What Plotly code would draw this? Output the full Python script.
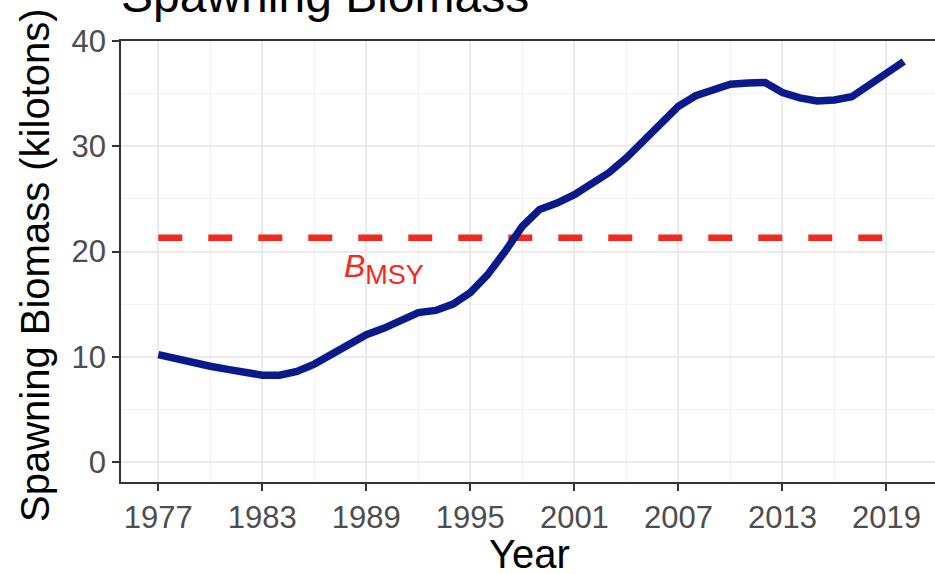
import plotly.graph_objects as go

years = list(range(1977, 2021))
biomass = [10.2, 9.8, 9.5, 9.1, 8.8, 8.5, 8.25, 8.25, 8.6, 9.3,
           10.2, 11.3, 12.1, 12.7, 13.5, 14.2, 14.4, 15.0, 16.1, 17.8,
           20.0, 22.4, 24.0, 24.6, 25.4, 26.4, 27.5, 28.9, 30.5, 32.2,
           33.8, 34.8, 35.4, 35.9, 36.0, 36.05, 35.1, 34.6, 34.3, 34.4,
           34.7, 35.8, 37.0, 38.05]
bmsy_years = [1977, 2019]
bmsy_value = 21.3
x_ticks = [1977, 1983, 1989, 1995, 2001, 2007, 2013, 2019]
y_ticks = [0, 10, 20, 30, 40]

FONT = "Liberation Sans, Arial, Helvetica, sans-serif"
BLUE = "#0B1A8A"
RED = "#F02A1E"

fig = go.Figure()
fig.add_trace(go.Scatter(x=bmsy_years, y=[bmsy_value] * len(bmsy_years), mode="lines",
                         line=dict(color=RED, width=6.5, dash="24px,26px"),
                         hoverinfo="skip", showlegend=False))
fig.add_trace(go.Scatter(x=years, y=biomass, mode="lines",
                         line=dict(color=BLUE, width=7.5),
                         showlegend=False))

fig.add_annotation(x=1990, y=18.3, xref="x", yref="y",
                   text="<i>B</i><sub><span style='font-size:27px'>MSY</span></sub>",
                   showarrow=False, font=dict(family=FONT, size=32, color=RED),
                   xanchor="center", yanchor="middle", xshift=0)

# plot panel: left 121px, width 814px; top 41px, height 441px
fig.add_annotation(x=0, xref="paper", y=1 + (41 - 24) / 441, yref="paper",
                   text="Spawning Biomass", showarrow=False,
                   font=dict(family=FONT, size=48, color="black"),
                   xanchor="left", yanchor="bottom", xshift=-2)
fig.add_annotation(x=(529 - 121) / 814, xref="paper", y=(482 - 554) / 441, yref="paper",
                   text="Year", showarrow=False,
                   font=dict(family=FONT, size=40, color="black"),
                   xanchor="center", yanchor="middle")
fig.add_annotation(x=(35 - 121) / 814, xref="paper", y=(482 - 265) / 441, yref="paper",
                   text="Spawning Biomass (kilotons)", showarrow=False, textangle=-90,
                   font=dict(family=FONT, size=40, color="black"),
                   xanchor="center", yanchor="middle")

grid_major = "#EBEBEB"
fig.update_layout(
    width=935, height=574,
    margin=dict(l=121, r=0, t=41, b=92),
    paper_bgcolor="white", plot_bgcolor="white",
    font=dict(family=FONT),
    xaxis=dict(
        range=[1974.85, 2021.8], automargin=False,
        tickvals=x_ticks, ticktext=[str(t) for t in x_ticks],
        showgrid=True, gridcolor=grid_major, gridwidth=1.6,
        minor=dict(tickvals=[y + 3 for y in x_ticks] + [1974], showgrid=True,
                   gridcolor="#F2F2F2", gridwidth=0.9, ticks=""),
        showline=True, linecolor="#333333", linewidth=1.5, mirror=True,
        ticks="outside", ticklen=7, tickwidth=1.6, tickcolor="#333333",
        tickfont=dict(family=FONT, size=31, color="#4D4D4D"),
        zeroline=False,
    ),
    yaxis=dict(
        range=[-1.9, 40.0], automargin=False,
        tickvals=y_ticks, ticktext=[str(t) for t in y_ticks],
        showgrid=True, gridcolor=grid_major, gridwidth=1.6,
        minor=dict(tickvals=[5, 15, 25, 35], showgrid=True,
                   gridcolor="#F2F2F2", gridwidth=0.9, ticks=""),
        showline=True, linecolor="#333333", linewidth=1.5, mirror=False,
        ticks="outside", ticklen=7, tickwidth=1.6, tickcolor="#333333",
        tickfont=dict(family=FONT, size=31, color="#4D4D4D"),
        zeroline=False,
    ),
)
fig.write_html("out.html", config={"displayModeBar": False},
               post_script="document.body.style.margin='0px';document.body.style.overflow='hidden';")
